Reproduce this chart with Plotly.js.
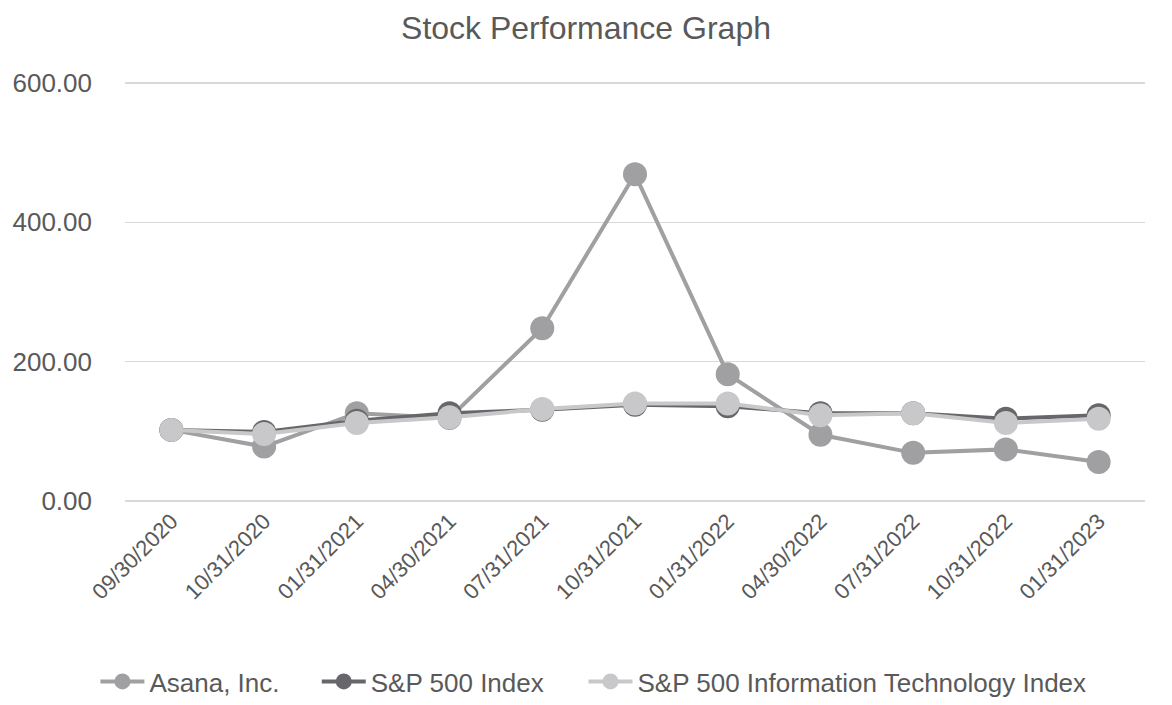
<!DOCTYPE html>
<html>
<head>
<meta charset="utf-8">
<script src="https://cdn.plot.ly/plotly-3.0.1.min.js"></script>
<style>html,body{margin:0;padding:0;background:#fff;}#chart{width:1172px;height:705px;}</style>
</head>
<body>
<div id="chart"></div>
<script>
const dates = ["09/30/2020","10/31/2020","01/31/2021","04/30/2021","07/31/2021","10/31/2021","01/31/2022","04/30/2022","07/31/2022","10/31/2022","01/31/2023"];
const asana = [102, 78, 126, 119, 248, 469, 182, 95, 69, 74, 56];
const sp500 = [102, 99, 115, 126, 131, 138, 136, 126, 126, 118, 123];
const spIT  = [102, 96, 112, 120, 132, 140, 140, 123, 126, 112, 118];

const seriesNames = ["Asana, Inc.", "S&P 500 Index", "S&P 500 Information Technology Index"];
const seriesColors = ["#a0a0a3", "#67676b", "#c8c8ca"];
const seriesData = [asana, sp500, spIT];
const legendIds = ["legend", "legend2", "legend3"];

const traces = seriesData.map((vals, i) => ({
  x: dates, y: vals, type: "scatter", mode: "lines+markers", name: seriesNames[i],
  legend: legendIds[i],
  line: {color: seriesColors[i], width: 4},
  marker: {color: seriesColors[i], size: 24}
}));

const font = {family: "Liberation Sans, Arial, sans-serif", color: "#595959"};
const legendBase = {orientation: "h", yref: "container", y: 0, yanchor: "bottom", xanchor: "left", font: {...font, size: 26}, itemwidth: 44, bgcolor: "rgba(0,0,0,0)"};
const layout = {
  width: 1172, height: 705,
  paper_bgcolor: "#fff", plot_bgcolor: "#fff",
  margin: {l: 125, r: 27, t: 81, b: 202},
  title: {text: "Stock Performance Graph", font: {...font, size: 32}, x: 0.5, xanchor: "center", y: 1 - 28/705, yanchor: "middle"},
  xaxis: {type: "category", tickangle: -45, tickfont: {...font, size: 22}, showgrid: false, zeroline: false, showline: false, ticks: "", range: [-0.5, 10.5], automargin: false},
  yaxis: {range: [-3, 603], tickvals: [0, 200, 400, 600], tickformat: ".2f", tickfont: {...font, size: 26}, gridcolor: "#d9d9d9", gridwidth: 1.5, zeroline: false, showline: false, ticks: "", ticklabelstandoff: 32, automargin: false},
  legend:  {...legendBase, x: -0.029},
  legend2: {...legendBase, x: 0.188},
  legend3: {...legendBase, x: 0.4495},
  showlegend: true
};
Plotly.newPlot("chart", traces, layout, {displayModeBar: false, staticPlot: true});
</script>
</body>
</html>
